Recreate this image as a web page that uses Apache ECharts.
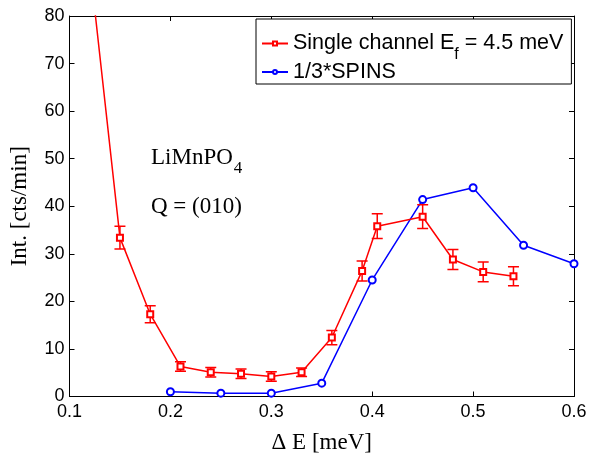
<!DOCTYPE html>
<html>
<head>
<meta charset="utf-8">
<script src="https://cdn.jsdelivr.net/npm/echarts@6/dist/echarts.min.js"></script>
<style>
  html, body { margin: 0; padding: 0; background: #fff; }
  #chart { width: 589px; height: 454px; }
</style>
</head>
<body>
<div id="chart"></div>
<script>
// Single-channel scan (energy transfer, intensity, error bar half-width)
const singleX = [0.12, 0.15, 0.18, 0.21, 0.24, 0.27, 0.30, 0.33, 0.36, 0.39, 0.405, 0.45, 0.48, 0.51, 0.54];
const singleY = [91, 33.4, 17.3, 6.3, 5.1, 4.8, 4.2, 5.1, 12.4, 26.4, 35.8, 37.8, 28.8, 26.2, 25.3];
const singleErr = [null, 2.4, 1.8, 1.0, 1.0, 1.0, 1.0, 0.9, 1.5, 2.1, 2.6, 2.5, 2.1, 2.1, 2.0];

// SPINS scan, scaled by 1/3
const spinsX = [0.20, 0.25, 0.30, 0.35, 0.40, 0.45, 0.50, 0.55, 0.60];
const spinsY = [1.0, 0.7, 0.7, 2.8, 24.5, 41.4, 43.9, 31.8, 27.9];

// Axis ticks
const xTicks = [0.1, 0.2, 0.3, 0.4, 0.5, 0.6];
const yTicks = [0, 10, 20, 30, 40, 50, 60, 70, 80];

const singleName = 'Single channel Ef = 4.5 meV';
const spinsName = '1/3*SPINS';

const SANS = "'Liberation Sans', Arial, Helvetica, sans-serif";
const SERIF = "'Liberation Serif', 'Times New Roman', Times, serif";

const xStep = xTicks[1] - xTicks[0];
const yStep = yTicks[1] - yTicks[0];

const errData = singleX
  .map((x, i) => singleErr[i] == null ? null : [x, singleY[i] - singleErr[i], singleY[i] + singleErr[i]])
  .filter(d => d !== null);

function axisCommon(showLabel) {
  return {
    axisLine: { show: true, onZero: false, lineStyle: { color: '#000', width: 1 } },
    axisTick: { show: true, inside: true, length: 5, lineStyle: { color: '#000', width: 1 } },
    splitLine: { show: false },
    axisLabel: { show: showLabel, color: '#000', fontFamily: SANS, fontSize: 18 }
  };
}

const chart = echarts.init(document.getElementById('chart'), null, { renderer: 'canvas' });

const xBase = {
  type: 'value',
  min: xTicks[0],
  max: xTicks[xTicks.length - 1],
  interval: xStep
};
const yBase = {
  type: 'value',
  min: yTicks[0],
  max: yTicks[yTicks.length - 1],
  interval: yStep
};

chart.setOption({
  animation: false,
  backgroundColor: '#fff',
  grid: {
    left: 69.5, right: 15, top: 16, bottom: 57.5,
    containLabel: false,
    outerBoundsMode: 'none'
  },
  xAxis: [
    Object.assign({}, xBase, axisCommon(true), {
      position: 'bottom',
      name: 'Δ E [meV]',
      nameLocation: 'middle',
      nameGap: 35,
      nameTextStyle: { color: '#000', fontFamily: SERIF, fontSize: 23 },
      axisLabel: {
        color: '#000', fontFamily: SANS, fontSize: 18, margin: 7,
        formatter: v => (Math.round(v * 10) / 10).toFixed(1)
      }
    }),
    Object.assign({}, xBase, axisCommon(false), { position: 'top' })
  ],
  yAxis: [
    Object.assign({}, yBase, axisCommon(true), {
      position: 'left',
      name: 'Int. [cts/min]',
      nameLocation: 'middle',
      nameGap: 38,
      nameTextStyle: { color: '#000', fontFamily: SERIF, fontSize: 23 },
      axisLabel: { color: '#000', fontFamily: SANS, fontSize: 18, margin: 5 }
    }),
    Object.assign({}, yBase, axisCommon(false), { position: 'right' })
  ],
  legend: {
    data: [singleName, spinsName],
    orient: 'vertical',
    left: 256,
    top: 19,
    padding: [5, 8, 1, 5],
    itemGap: -2,
    itemWidth: 26,
    itemHeight: 5,
    backgroundColor: '#fff',
    borderColor: '#000',
    borderWidth: 1,
    borderRadius: 0,
    selectedMode: false,
    textStyle: {
      color: '#000',
      fontFamily: SANS,
      fontSize: 21.5,
      rich: {
        a: { fontFamily: SANS, fontSize: 21.5, color: '#000', lineHeight: 26 },
        s: { fontFamily: SANS, fontSize: 16, color: '#000', lineHeight: 4, padding: [23, 0, 0, 0] }
      }
    },
    formatter: name => name === singleName
      ? '{a|Single channel E}{s|f}{a| = 4.5 meV}'
      : '{a|' + name + '}'
  },
  graphic: [
    {
      type: 'text',
      left: 151,
      top: 138,
      style: {
        text: '{a|LiMnPO}{s|4}',
        rich: {
          a: { fontFamily: SERIF, fontSize: 23, fill: '#000', lineHeight: 26 },
          s: { fontFamily: SERIF, fontSize: 17, fill: '#000', lineHeight: 4, padding: [22, 0, 0, 1] }
        }
      }
    },
    {
      type: 'text',
      left: 151,
      top: 195,
      style: { text: 'Q = (010)', fontFamily: SERIF, fontSize: 23, fill: '#000' }
    }
  ],
  series: [
    {
      name: singleName,
      type: 'line',
      xAxisIndex: 0,
      yAxisIndex: 0,
      data: singleX.map((x, i) => [x, singleY[i]]),
      symbol: 'emptyRect',
      symbolSize: 6,
      lineStyle: { color: '#ff0000', width: 1.5 },
      itemStyle: { color: '#ff0000', borderColor: '#ff0000', borderWidth: 1.5 },
      clip: true,
      z: 3
    },
    {
      name: 'errorbars',
      type: 'custom',
      xAxisIndex: 0,
      yAxisIndex: 0,
      data: errData,
      encode: { x: 0, y: [1, 2] },
      clip: true,
      z: 3,
      renderItem: function (params, api) {
        const x = api.value(0);
        const lo = api.coord([x, api.value(1)]);
        const hi = api.coord([x, api.value(2)]);
        const hw = 5.5;
        const style = { stroke: '#ff0000', lineWidth: 1.5 };
        return {
          type: 'group',
          children: [
            { type: 'line', shape: { x1: lo[0], y1: lo[1], x2: hi[0], y2: hi[1] }, style: style },
            { type: 'line', shape: { x1: lo[0] - hw, y1: lo[1], x2: lo[0] + hw, y2: lo[1] }, style: style },
            { type: 'line', shape: { x1: hi[0] - hw, y1: hi[1], x2: hi[0] + hw, y2: hi[1] }, style: style }
          ]
        };
      }
    },
    {
      name: spinsName,
      type: 'line',
      xAxisIndex: 0,
      yAxisIndex: 0,
      data: spinsX.map((x, i) => [x, spinsY[i]]),
      symbol: 'emptyCircle',
      symbolSize: 7,
      lineStyle: { color: '#0000ff', width: 1.5 },
      itemStyle: { color: '#0000ff', borderColor: '#0000ff', borderWidth: 1.5 },
      clip: true,
      z: 2
    }
  ]
});
</script>
</body>
</html>
